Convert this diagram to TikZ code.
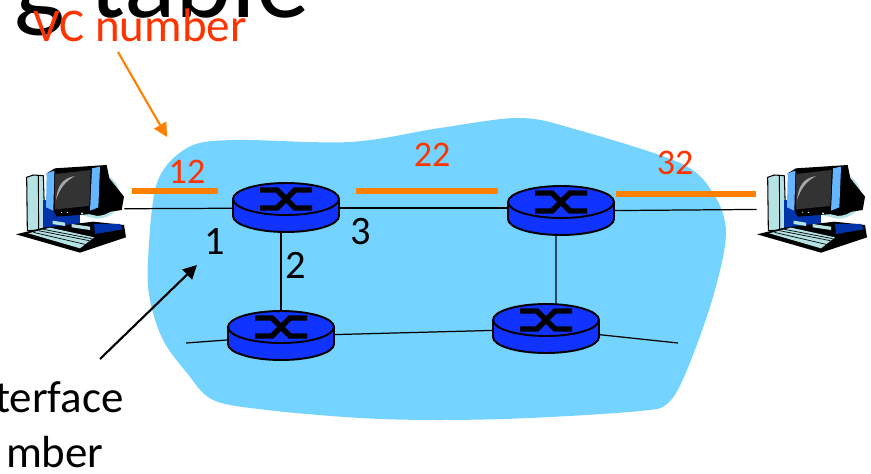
\documentclass[tikz,border=0pt]{standalone}
\usepackage{fontspec}
\setmainfont{Carlito}
\usetikzlibrary{arrows.meta}
\definecolor{cloudblue}{HTML}{75D3FF}
\definecolor{routerblue}{HTML}{1033FF}
\definecolor{vcorange}{HTML}{FF8000}
\definecolor{vcred}{HTML}{FF3300}
\definecolor{pcblue}{HTML}{0033AA}
\definecolor{pcsky}{HTML}{66B5FF}
\definecolor{pcteal}{HTML}{B5E3E3}
\tikzset{
	routernode/.style={minimum width=2.12cm,minimum height=1cm,inner sep=0pt},
	hostnode/.style={minimum width=2.16cm,minimum height=1.76cm,inner sep=0pt},
	linkline/.style={black,line width=0.7pt},
	vcbar/.style={vcorange,line width=3.4pt},
	vcnum/.style={vcred,inner sep=0pt,font=\fontsize{20.5}{24}\selectfont},
	portnum/.style={black,inner sep=0pt,font=\fontsize{23}{27}\selectfont},
	calltext/.style={inner sep=0pt,anchor=base east,font=\fontsize{25.6}{30}\selectfont},
	routerpic/.pic={
		\draw[fill=routerblue,line width=1.1pt] (-53,-9) -- (-53,8) arc[start angle=180,end angle=360,x radius=1.06cm,y radius=.32cm] -- (53,-9);
		\draw[fill=routerblue,line width=1.1pt] (0,-9) ellipse (1.06cm and .32cm);
		\draw[line width=3.1pt] (-26,-18) -- (-9,-18) -- (9,0) -- (26,0);
		\draw[line width=3.1pt] (-26,0) -- (-9,0) -- (9,-18) -- (26,-18);
	},
	hostpc/.pic={
		\begin{scope}[scale=1/3,line join=round]
			% tower
			\draw[fill=pcteal,line width=0.6pt] (80,532) -- (100,525) -- (130,527) -- (135,690) -- (82,692) -- cycle;
			\draw[line width=0.5pt] (115,528) -- (116,690);
			% desk
			\fill[pcblue] (128,600) -- (240,600) -- (240,690) -- (128,690) -- cycle;
			% keyboard base
			\fill[black] (48,703) -- (130,683) -- (280,665) -- (372,675) -- (378,712) -- (240,758) -- cycle;
			\fill[pcblue] (282,672) -- (360,672) -- (368,688) -- (285,702) -- cycle;
			\fill[pcteal] (85,700) -- (150,683) -- (282,712) -- (240,745) -- cycle;
			\draw[black,line width=0.4pt] (100,697) -- (255,733) (115,692) -- (268,722) (130,688) -- (275,716);
			\fill[pcteal] (158,662) -- (195,668) -- (195,678) -- (158,672) -- cycle;
			\fill[pcteal] (215,672) -- (270,680) -- (270,690) -- (215,682) -- cycle;
			% monitor ring and body
			\draw[pcteal,line width=1.6pt,fill=black] (320,530) .. controls (375,560) and (370,650) .. (290,652) -- (240,640) -- (320,520);
			\fill[black] (140,520) -- (165,505) -- (320,495) -- (328,535) -- (372,590) -- (365,630) -- (300,640) -- (170,650) -- (160,630) -- cycle;
			% bezel and screen
			\fill[pcsky] (140,520) -- (163,512) -- (160,632) -- (138,622) -- cycle;
			\fill[pcsky] (276,505) -- (300,500) -- (295,622) -- (270,632) -- cycle;
			\fill[black!80] (165,522) -- (272,510) -- (268,618) -- (165,628) -- cycle;
			\fill[black!35] (168,600) .. controls (172,560) and (185,535) .. (225,528) .. controls (195,545) and (180,565) .. (168,600) -- cycle;
			\fill[white] (185,637) circle (1pt) (202,637) circle (1pt) (246,640) circle (1.6pt);
		\end{scope}
	}
}
\begin{document}
\begin{tikzpicture}[x=0.02cm,y=-0.02cm]
	\path[use as bounding box,clip] (0,0) rectangle (871,473);
	% network cloud
	\fill[cloudblue] plot[smooth cycle,tension=0.55] coordinates {(148,260) (157,183) (187,148) (233,140) (350,142) (440,128) (520,118) (578,130) (680,163) (713,193) (726,233) (713,297) (687,370) (668,403) (640,411) (530,418) (440,420) (360,418) (267,410) (213,400) (187,373) (163,340) (150,300)};
	% title rest and labels
	\node[calltext,font=\fontsize{61}{70}\selectfont] (title) at (310,18) {g table};
	\node[vcnum,font=\fontsize{26.7}{30}\selectfont,vcred] (vclabel) at (140,25) {VC number};
	\node[calltext] (iflabel) at (124,412) {terface};
	\node[calltext] (numlabel) at (104,467) {mber};
	% hosts and routers
	\node[hostnode] (h1) at (70,209) {};
	\node[hostnode] (h2) at (811,209) {};
	\node[routernode] (r1) at (286,208) {};
	\node[routernode] (r2) at (561,211) {};
	\node[routernode] (r3) at (281,336) {};
	\node[routernode] (r4) at (546,329) {};
	\coordinate (s3) at (186,343);
	\coordinate (s4) at (678,343);
	% links
	\draw[linkline] (h1) -- (r1);
	\draw[linkline] (r1) -- (r1 -| r2);
	\draw[linkline] (r2) -- (h2);
	\draw[linkline] (r3) -- (r3 |- r1);
	\draw[linkline] ([xshift=-.1cm]r2.center) -- ([xshift=.2cm]r4.center);
	\draw[linkline] (r3) -- (r4);
	\draw[linkline] (s3) -- (r3);
	\draw[linkline] (s4) -- (r4);
	\foreach \r in {r1,r2,r3,r4}
		\pic at (\r) {routerpic};
	\pic at (0,0) {hostpc};
	\pic at (741,0) {hostpc};
	% vc bars
	\draw[vcbar] (132,191) -- (218,191);
	\draw[vcbar] (356,191) -- (498,191);
	\draw[vcbar] (616,194) -- (756,194);
	\node[vcnum] (n12) at (187,172) {12};
	\node[vcnum] (n22) at (432,155) {22};
	\node[vcnum] (n32) at (675,163) {32};
	\node[portnum] (p1) at (215,241) {1};
	\node[portnum] (p2) at (296,265) {2};
	\node[portnum] (p3) at (361,232) {3};
	% pointers
	\coordinate (vctail) at (118,52);
	\coordinate (vctip) at (167,137);
	\coordinate (iftail) at (100,359);
	\coordinate (iftip) at (197,265);
	\draw[vcorange,line width=1.2pt,-{Stealth[length=4.6mm*0.6,width=4.6mm*0.6,inset=0pt]}] (vctail) -- (vctip);
	\draw[black,line width=1.2pt,-{Stealth[length=4.6mm*0.6,width=4.6mm*0.6,inset=0pt]}] (iftail) -- (iftip);
\end{tikzpicture}
\end{document}
